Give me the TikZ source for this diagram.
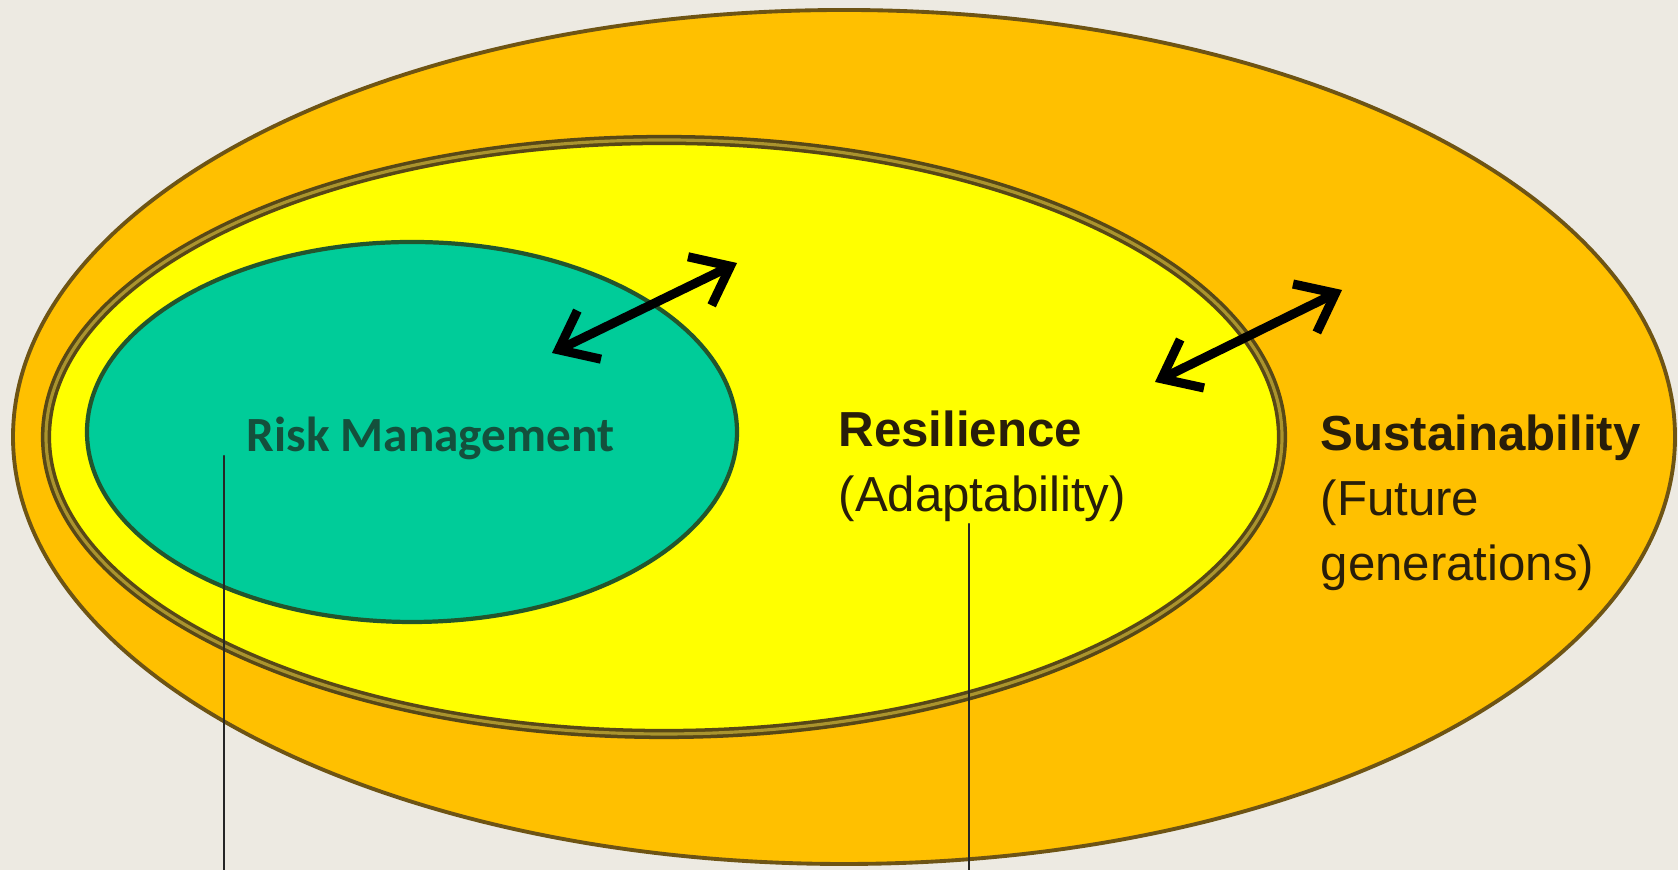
\documentclass[tikz,border=0pt]{standalone}
\usepackage{fontspec}
\setmainfont{Liberation Sans}
\newfontfamily\calibrifont{Carlito}
\usepackage{tikz}
\usepackage{tkz-euclide}
\usetikzlibrary{calc}
\usetikzlibrary{positioning}
\usetikzlibrary{arrows.meta}

\definecolor{bgpaper}{RGB}{237,234,226}
\definecolor{sustorange}{RGB}{255,192,0}
\definecolor{resyellow}{RGB}{255,255,0}
\definecolor{riskteal}{RGB}{0,204,153}
\definecolor{rimolive}{RGB}{110,84,20}
\definecolor{rimdark}{RGB}{88,72,22}
\definecolor{rimtan}{RGB}{170,148,45}
\definecolor{rimgreen}{RGB}{35,85,45}
\definecolor{riskink}{RGB}{20,80,60}
\definecolor{labelink}{RGB}{40,30,10}

\begin{document}
\begin{tikzpicture}[%
  >={Straight Barb[length=3.4mm,width=5.4mm]},
  scale=1.0,
  rim/.style={draw=rimolive,line width=1.1pt},
  twinrim/.style={draw=rimdark,double=rimtan,line width=1.0pt,double distance=0.9pt},
  tag/.style={anchor=north west,inner sep=0pt,align=left,text=labelink,
    font=\fontsize{14}{18.5}\selectfont},
  link/.style={<->,line width=2.6pt,color=black},
  leader/.style={line width=0.6pt,color=black!85},
]

  \useasboundingbox (0,0) rectangle (16.78,8.70);
  \fill[bgpaper] (0,0) rectangle (16.78,8.70);

  \tkzDefPoint(8.44, 4.33){S}
  \tkzDefPoint(6.64, 4.33){R}
  \tkzDefPoint(4.12, 4.38){K}

  \draw[rim,fill=sustorange] (S) ellipse [x radius=8.31,y radius=4.27];
  \draw[twinrim,fill=resyellow] (R) ellipse [x radius=6.18,y radius=2.97];
  \draw[draw=rimgreen,line width=1.2pt,fill=riskteal] (K) ellipse [x radius=3.25,y radius=1.90];

  \node[tag,text=riskink,font=\calibrifont\bfseries\fontsize{14}{17}\selectfont]
    (risk) at (2.46, 4.54) {Risk Management};
  \node[tag] (resil) at (8.38, 4.60) {\textbf{Resilience}\\(Adaptability)};
  \node[tag] (sustain) at (13.20, 4.56) {\textbf{Sustainability}\\(Future\\generations)};

  \tkzDefPoint(5.52, 5.17){a1}
  \tkzDefPoint(7.37, 6.07){a2}
  \tkzDefPoint(11.55, 4.88){b1}
  \tkzDefPoint(13.42, 5.80){b2}

  \tkzDrawSegment[link](a1,a2)
  \tkzDrawSegment[link](b1,b2)

  \tkzDefPoint(2.24, 4.14){p}
  \tkzDefPoint(2.24, -0.05){p0}
  \tkzDefPoint(9.69, 3.46){q}
  \tkzDefPoint(9.69, -0.05){q0}

  \tkzDrawSegments[leader](p,p0 q,q0)

\end{tikzpicture}
\end{document}
